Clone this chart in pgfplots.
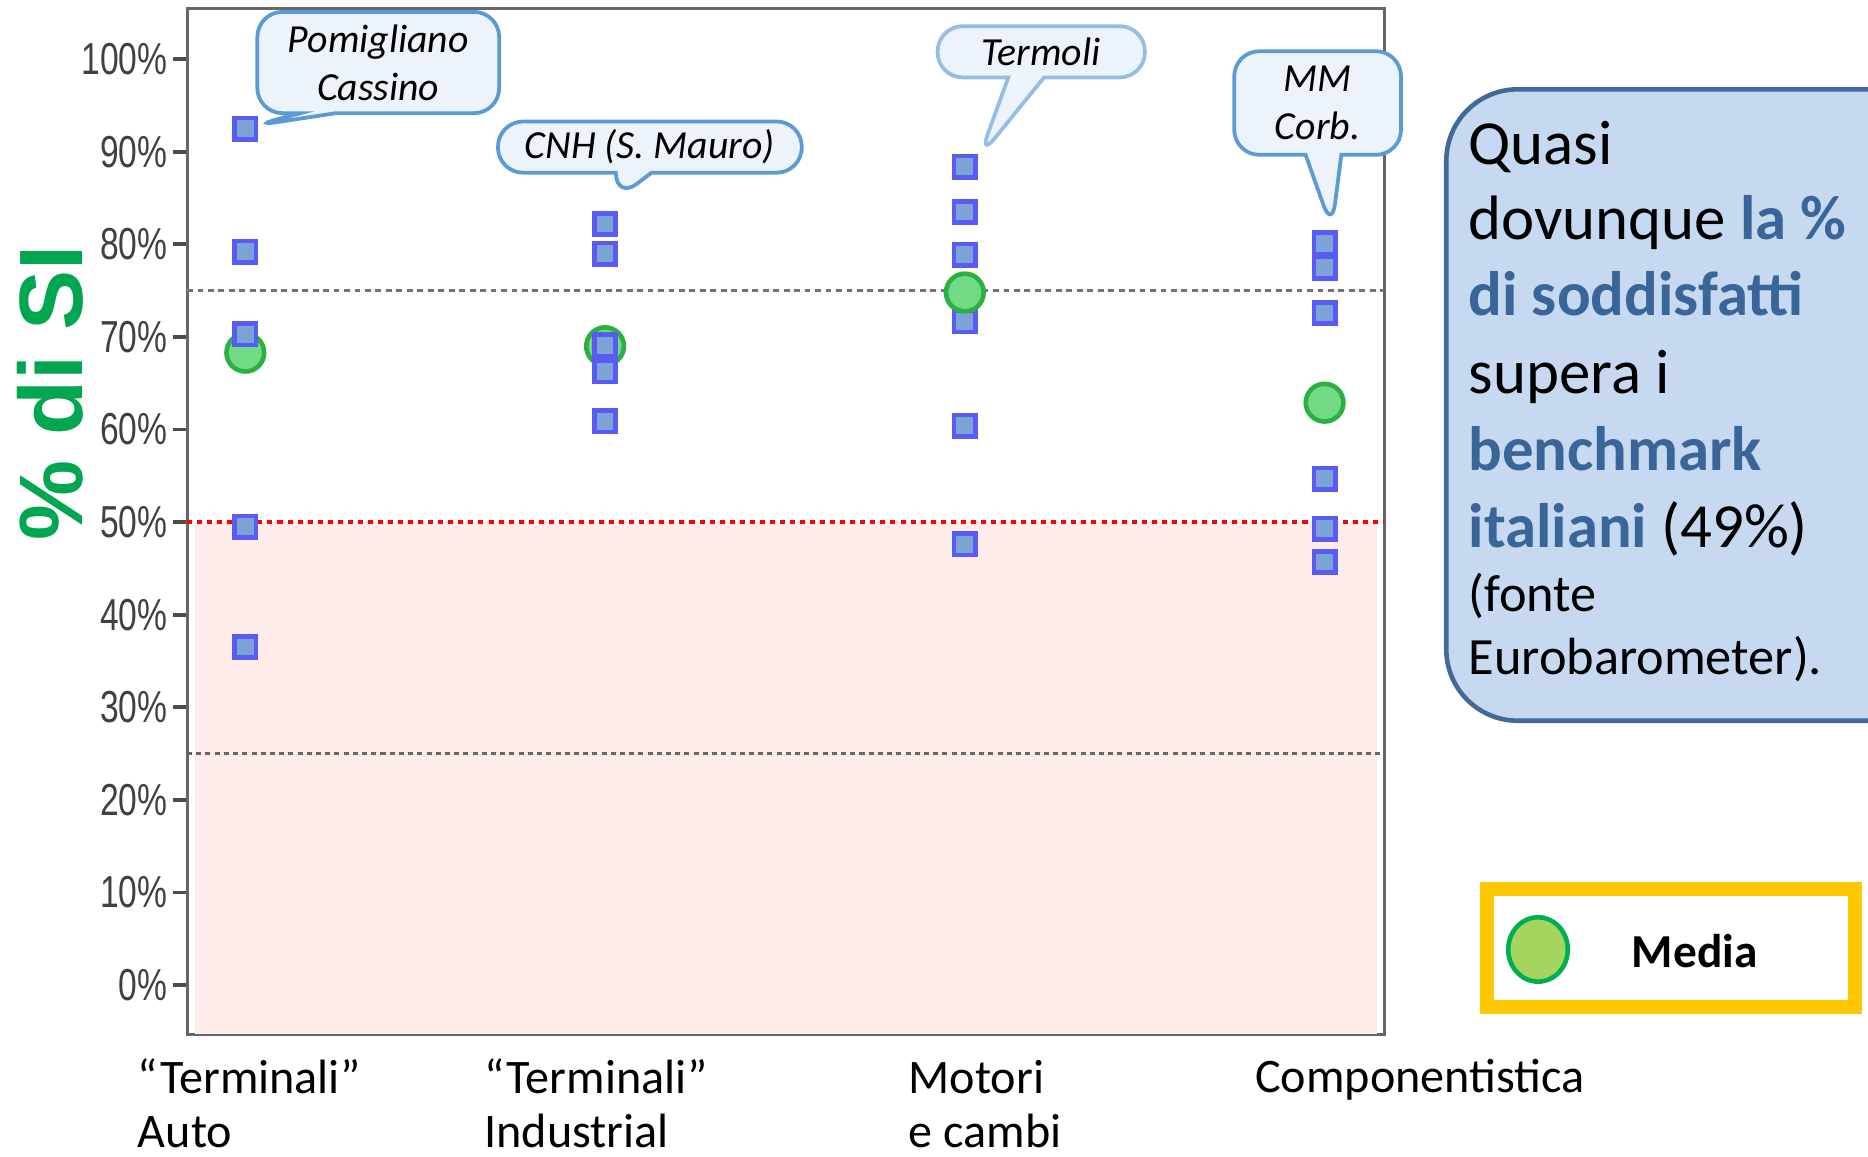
\documentclass[border=0pt]{standalone}
\usepackage{pgfplots}
\pgfplotsset{compat=1.18}
\usepackage{fontspec}
\usetikzlibrary{shapes.callouts}
\setmainfont{Carlito}
\newfontfamily\tickfont[FakeStretch=0.75]{Liberation Sans}
\newfontfamily\ylabfont{Liberation Sans}

\definecolor{sqfill}{HTML}{7BA3D3}
\definecolor{sqdraw}{HTML}{5A5AF5}
\definecolor{mfill}{HTML}{70DB84}
\definecolor{mdraw}{HTML}{2DB043}
\definecolor{pinkzone}{HTML}{FDECEA}
\definecolor{calfill}{HTML}{EDF3FA}
\definecolor{caldraw}{HTML}{5B9BD5}
\definecolor{boxfill}{HTML}{C6D9F0}
\definecolor{boxdraw}{HTML}{41699A}
\definecolor{boxtext}{HTML}{3A6598}
\definecolor{siGreen}{HTML}{00A650}
\definecolor{legYellow}{HTML}{FFC800}
\definecolor{legFill}{HTML}{A3D55F}
\definecolor{legDraw}{HTML}{00B050}

\begin{document}
\begin{tikzpicture}
\path[use as bounding box] (0,0) rectangle (15.68,9.71);

\begin{axis}[
    at={(1.57cm,1.03cm)}, anchor=south west,
    scale only axis,
    width=10.05cm, height=8.61cm,
    xmin=-0.162, xmax=3.166,
    ymin=-5.3, ymax=105.5,
    xtick=\empty,
    ytick={0,10,...,100},
    yticklabel={\pgfmathprintnumber{\tick}\%},
    /pgf/number format/assume math mode=true,
    yticklabel style={font=\tickfont\fontsize{10.7}{12}\selectfont, color=black!75,
        xshift=0.08cm},
    ytick pos=left,
    tick align=outside,
    major tick length=0.12cm,
    ytick style={color=black!70, line width=0.9pt},
    axis line style={draw=black!60, line width=0.7pt},
]

% zona sotto il benchmark (50%)
\addplot[fill=pinkzone, draw=none] coordinates {
    (-0.14,-5.3) (3.145,-5.3) (3.145,50) (-0.14,50)
} -- cycle;

% linee di riferimento
\addplot[black!55, line width=0.8pt, dash pattern=on 1.4pt off 1.1pt] coordinates {(-0.162,75) (3.166,75)};
\addplot[black!60, line width=0.6pt, dash pattern=on 1.2pt off 1.0pt] coordinates {(-0.162,25) (3.166,25)};
\addplot[red, line width=1.0pt, dash pattern=on 1.2pt off 1.2pt] coordinates {(-0.162,50) (3.166,50)};

% stabilimenti - Motori e cambi (sotto la media)
\addplot[only marks, mark=square*, mark size=2.55pt,
    mark options={fill=sqfill, draw=sqdraw, line width=1.1pt}] coordinates {
    (2,88.4) (2,83.5) (2,78.9) (2,71.7) (2,60.4) (2,47.6)
};

% medie
\addplot[only marks, mark=*, mark size=4.5pt,
    mark options={fill=mfill, draw=mdraw, line width=1.1pt}] coordinates {
    (0,68.3) (1,69.0) (2,74.8) (3,62.9)
};

% stabilimenti - Terminali Auto
\addplot[only marks, mark=square*, mark size=2.55pt,
    mark options={fill=sqfill, draw=sqdraw, line width=1.1pt}] coordinates {
    (0,92.5) (0,79.2) (0,70.3) (0,49.5) (0,36.5)
};
% stabilimenti - Terminali Industrial
\addplot[only marks, mark=square*, mark size=2.55pt,
    mark options={fill=sqfill, draw=sqdraw, line width=1.1pt}] coordinates {
    (1,82.2) (1,79.0) (1,69.1) (1,66.3) (1,60.9)
};
% stabilimenti - Componentistica
\addplot[only marks, mark=square*, mark size=2.55pt,
    mark options={fill=sqfill, draw=sqdraw, line width=1.1pt}] coordinates {
    (3,80.1) (3,77.5) (3,72.6) (3,54.7) (3,49.3) (3,45.7)
};

\coordinate (tipA) at (axis cs:0.02,92.8);
\coordinate (tipB) at (axis cs:1.033,84.9);
\coordinate (tipC) at (axis cs:2.04,89.4);
\coordinate (tipD) at (axis cs:3.02,81.7);
\end{axis}

% etichetta asse y
\node[rotate=90, font=\ylabfont\bfseries\fontsize{21.5}{24}\selectfont, text=siGreen]
    at (0.42,6.41) {\% di SI};

% categorie
\begin{scope}[every node/.style={anchor=base west, inner sep=0pt,
        font=\fontsize{11.5}{13}\selectfont}]
\node at (1.15,0.53) {“Terminali”};
\node at (1.15,0.08) {Auto};
\node at (4.06,0.53) {“Terminali”};
\node at (4.06,0.08) {Industrial};
\node at (7.62,0.53) {Motori};
\node at (7.62,0.08) {e cambi};
\node at (10.53,0.54) {Componentistica};
\end{scope}

% callout
\begin{scope}[every node/.style={rectangle callout, rounded corners=6pt,
        draw=caldraw, fill=calfill, line width=0.9pt, align=center,
        font=\itshape\fontsize{9.5}{11.4}\selectfont, inner sep=1pt,
        callout pointer width=0.3cm}]
\node[minimum width=2.03cm, minimum height=0.85cm,
    callout absolute pointer={(tipA)}] at (3.175,9.185) {Pomigliano\\Cassino};
\node[minimum width=2.55cm, minimum height=0.43cm,
    callout absolute pointer={(tipB)}] at (5.455,8.475) {CNH (S. Mauro)};
\node[minimum width=1.74cm, minimum height=0.43cm, draw=caldraw!65,
    callout absolute pointer={(tipC)}] at (8.74,9.275) {Termoli};
\node[minimum width=1.40cm, minimum height=0.87cm,
    callout absolute pointer={(tipD)}] at (11.06,8.845) {MM\\Corb.};
\end{scope}

% riquadro di testo
\draw[boxdraw, fill=boxfill, line width=1.1pt, rounded corners=0.6cm]
    (12.14,3.66) rectangle (16.3,8.96);
\begin{scope}[every node/.style={anchor=base west, inner sep=0pt}]
\node[font=\fontsize{15}{18}\selectfont] at (12.32,8.33) {Quasi};
\node[font=\fontsize{15}{18}\selectfont] at (12.32,7.70) {dovunque \textcolor{boxtext}{\bfseries la \%}};
\node[font=\fontsize{15}{18}\selectfont\bfseries, text=boxtext] at (12.32,7.06) {di soddisfatti};
\node[font=\fontsize{15}{18}\selectfont] at (12.32,6.41) {supera i};
\node[font=\fontsize{15}{18}\selectfont\bfseries, text=boxtext] at (12.32,5.76) {benchmark};
\node[font=\fontsize{15}{18}\selectfont] at (12.32,5.11) {\textcolor{boxtext}{\bfseries italiani} (49\%)};
\node[font=\fontsize{12.5}{15}\selectfont] at (12.32,4.58) {(fonte};
\node[font=\fontsize{12.5}{15}\selectfont] at (12.32,4.05) {Eurobarometer).};
\end{scope}

% legenda
\draw[legYellow, line width=0.12cm] (12.48,1.26) rectangle (15.57,2.25);
\draw[legDraw, fill=legFill, line width=1.1pt] (12.91,1.74) ellipse [x radius=0.25cm, y radius=0.27cm];
\node[font=\bfseries\fontsize{11.3}{13}\selectfont] at (14.225,1.73) {Media};

\end{tikzpicture}
\end{document}
